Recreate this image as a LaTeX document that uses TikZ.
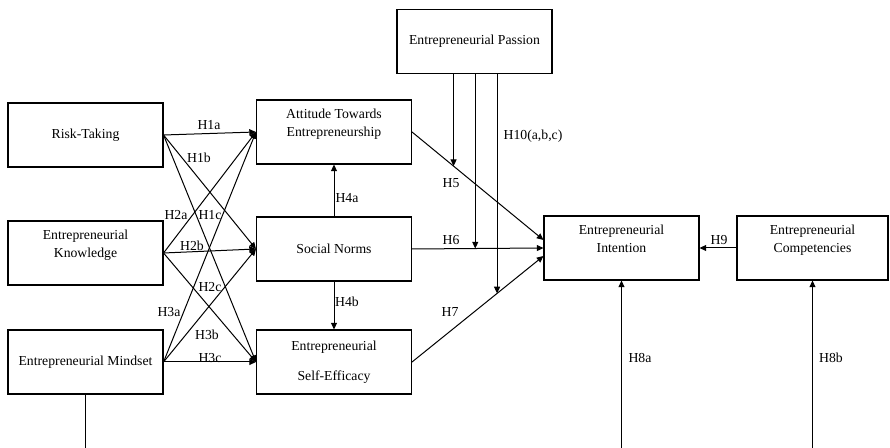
\documentclass[tikz,border=0pt]{standalone}
\usepackage{fontspec}
\setmainfont{Liberation Serif}
\usetikzlibrary{arrows.meta}
\tikzset{
  box/.style = {draw, line width=0.8pt, minimum width=116.25pt, minimum height=48pt, inner sep=0pt, align=center, font=\fontsize{10.3}{14}\selectfont},
  hyp/.style = {inner sep=0pt, font=\fontsize{10.3}{12}\selectfont},
  arr/.style = {line width=0.75pt, -{Triangle[length=5pt, width=4.5pt]}},
  ln/.style = {line width=0.75pt}
}
\begin{document}
\begin{tikzpicture}[x=0.75pt, y=-0.75pt]
\useasboundingbox (0,0) rectangle (890,448);
% constructs
\node [box] (risk) at (85.5, 135) {Risk-Taking};
\node [box] (know) at (85.5, 253) {Entrepreneurial\\Knowledge\\\mbox{}};
\node [box] (mind) at (85.5, 362) {Entrepreneurial Mindset};
\node [box] (att) at (334, 132) {Attitude Towards\\Entrepreneurship\\\mbox{}};
\node [box] (norm) at (334, 249) {Social Norms};
\node [box] (eff) at (334, 362) {Entrepreneurial\\[8.5pt]Self-Efficacy};
\node [box] (pas) at (474.5, 41.5) {Entrepreneurial Passion};
\node [box] (int) at (621.5, 248) {Entrepreneurial\\Intention\\\mbox{}};
\node [box, minimum width=113.25pt] (comp) at (812.5, 248) {Entrepreneurial\\Competencies\\\mbox{}};
\coordinate (lowm) at (85.5, 448);
\coordinate (low8a) at (621.5, 448);
\coordinate (low8b) at (812.5, 448);
% antecedents
\foreach \s in {risk, know, mind}
  \foreach \t in {att, norm, eff}
    \draw [arr] (\s.east) -- (\t.west);
\node [hyp] (h1a) at (209, 125) {H1a};
\node [hyp] (h1b) at (199, 158) {H1b};
\node [hyp] (h2a) at (176, 215) {H2a};
\node [hyp] (h1c) at (210, 215) {H1c};
\node [hyp] (h2b) at (192, 246) {H2b};
\node [hyp] (h2c) at (210, 287) {H2c};
\node [hyp] (h3a) at (169, 312) {H3a};
\node [hyp] (h3b) at (207, 335) {H3b};
\node [hyp] (h3c) at (210, 358) {H3c};
% social norms
\draw [arr] (norm.north) -- (att.south);
\draw [arr] (norm.south) -- (eff.south |- eff.north);
\node [hyp] (h4a) at (347, 198) {H4a};
\node [hyp] (h4b) at (347, 302) {H4b};
% intention
\draw [arr] (att.east) -- coordinate [pos=0.316] (m5) ([yshift=6pt]int.west);
\draw [arr] (norm.east) -- coordinate [pos=0.481] (m6) (int.west);
\draw [arr] (eff.east) -- coordinate [pos=0.647] (m7) ([yshift=-6pt]int.west);
\node [hyp] (h5) at (451, 183) {H5};
\node [hyp] (h6) at (451, 240) {H6};
\node [hyp] (h7) at (450, 312) {H7};
% moderation
\draw [arr] (m5 |- pas.south) -- (m5);
\draw [arr] (m6 |- pas.south) -- (m6);
\draw [arr] (m7 |- pas.south) -- (m7);
\node [hyp] (h10) at (533, 136) {H10(a,b,c)};
% competencies
\draw [arr] (comp.west) -- (int.east);
\node [hyp] (h9) at (719, 240) {H9};
\draw [ln] (mind.south) -- (lowm);
\draw [arr] (low8a) -- (int.south);
\draw [arr] (low8b) -- (comp.south);
\node [hyp] (h8a) at (640, 358) {H8a};
\node [hyp] (h8b) at (831, 358) {H8b};
\end{tikzpicture}
\end{document}
